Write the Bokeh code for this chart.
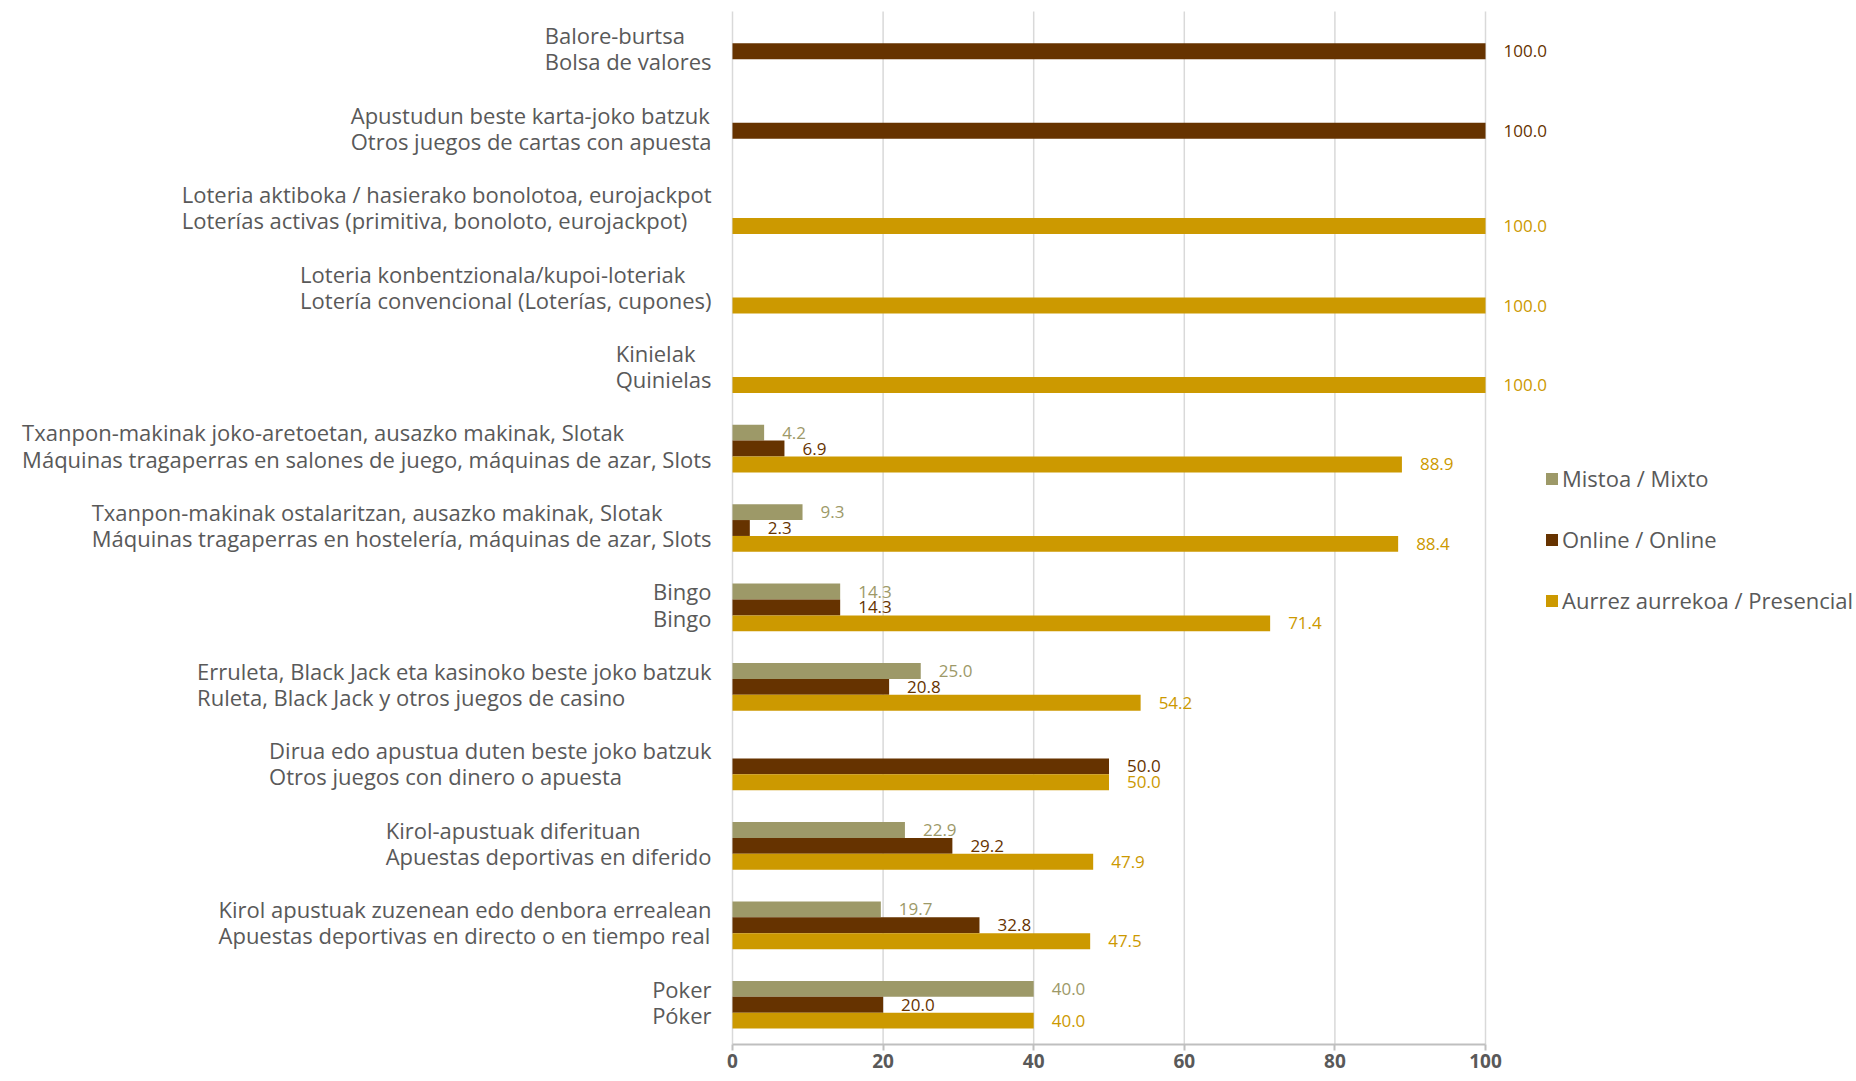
import math
from bokeh.plotting import figure
from bokeh.models import (ColumnDataSource, Range1d, FixedTicker, LinearAxis,
                          Legend, LegendItem)
from bokeh.core.properties import value
from bokeh.embed import file_html
from bokeh.resources import INLINE

# ---------------- data ----------------
categories_eu = [
    "Balore-burtsa",
    "Apustudun beste karta-joko batzuk",
    "Loteria aktiboka / hasierako bonolotoa, eurojackpot",
    "Loteria konbentzionala/kupoi-loteriak",
    "Kinielak",
    "Txanpon-makinak joko-aretoetan, ausazko makinak, Slotak",
    "Txanpon-makinak ostalaritzan, ausazko makinak, Slotak",
    "Bingo",
    "Erruleta, Black Jack eta kasinoko beste joko batzuk",
    "Dirua edo apustua duten beste joko batzuk",
    "Kirol-apustuak diferituan",
    "Kirol apustuak zuzenean edo denbora errealean",
    "Poker",
]
categories_es = [
    "Bolsa de valores",
    "Otros juegos de cartas con apuesta",
    "Loterías activas (primitiva, bonoloto, eurojackpot)",
    "Lotería convencional (Loterías, cupones)",
    "Quinielas",
    "Máquinas tragaperras en salones de juego, máquinas de azar, Slots",
    "Máquinas tragaperras en hostelería, máquinas de azar, Slots",
    "Bingo",
    "Ruleta, Black Jack y otros juegos de casino",
    "Otros juegos con dinero o apuesta",
    "Apuestas deportivas en diferido",
    "Apuestas deportivas en directo o en tiempo real",
    "Póker",
]
nan = float("nan")
mixto = [nan, nan, nan, nan, nan, 4.2, 9.3, 14.3, 25.0, nan, 22.9, 19.7, 40.0]
online = [100.0, 100.0, nan, nan, nan, 6.9, 2.3, 14.3, 20.8, 50.0, 29.2, 32.8, 20.0]
presencial = [nan, nan, 100.0, 100.0, 100.0, 88.9, 88.4, 71.4, 54.2, 50.0, 47.9, 47.5, 40.0]
series_names = ["Mistoa / Mixto", "Online / Online", "Aurrez aurrekoa / Presencial"]
x_ticks = [0, 20, 40, 60, 80, 100]

# ---------------- styles / layout ----------------
FONT = "Open Sans"
TEXT_GREY = "#595959"
GRID = "#D9D9D9"
colors = ["#9D9968", "#663300", "#CC9900"]
offsets = [0.2, 0.0, -0.2]
BAR_H = 0.2

W, H = 1856, 1080
PX_L, PX_R = 732, 1485      # screen x of value 0 and value 100
TOP, BOT = 11, 1044         # screen y of the category area
n = len(categories_eu)
sx = (PX_R - PX_L) / 100.0
sy = (BOT - TOP) / n

p = figure(width=W, height=H, output_backend="svg", toolbar_location=None,
           x_range=Range1d(-PX_L / sx, 100 + (W - PX_R) / sx),
           y_range=Range1d(-0.5 - (H - BOT) / sy, n - 0.5 + TOP / sy),
           x_axis_location=None, y_axis_location=None, tools="")
p.min_border_left = p.min_border_right = p.min_border_top = p.min_border_bottom = 0
p.outline_line_color = None
p.background_fill_color = "white"
p.border_fill_color = "white"
p.xgrid.visible = False
p.ygrid.visible = False

# vertical grid lines from the tick list
p.segment(x0=x_ticks, y0=[-0.5] * len(x_ticks), x1=x_ticks, y1=[n - 0.5] * len(x_ticks),
          line_color=GRID, line_width=1.5)

ax = LinearAxis(fixed_location=-0.5, bounds=(0, 100), ticker=FixedTicker(ticks=x_ticks))
ax.axis_line_color = "#BFBFBF"
ax.axis_line_width = 2
ax.major_tick_line_color = "#BFBFBF"
ax.major_tick_line_width = 2
ax.major_tick_out = 6
ax.major_tick_in = 0
ax.minor_tick_line_color = None
ax.major_label_standoff = 3
ax.major_label_text_font = FONT
ax.major_label_text_font_style = "bold"
ax.major_label_text_font_size = "19px"
ax.major_label_text_color = TEXT_GREY
p.add_layout(ax, "below")

renderers = []
for vals, col, off in zip([mixto, online, presencial], colors, offsets):
    ys, vs, lbls = [], [], []
    for i, v in enumerate(vals):
        if not math.isnan(v):
            ys.append(n - 1 - i + off)
            vs.append(v)
            lbls.append(f"{v:.1f}")
    src = ColumnDataSource(dict(y=ys, v=vs, lbl=lbls))
    r = p.hbar(y="y", left=0, right="v", height=BAR_H, source=src,
               fill_color=col, line_color=None)
    renderers.append(r)
    p.text(x="v", y="y", text="lbl", source=src, x_offset=18,
           text_align="left", text_baseline="middle",
           text_color=col, text_font=value(FONT), text_font_size="17px")

cat_src = ColumnDataSource(dict(
    y=[n - 1 - i for i in range(n)],
    x=[0] * n,
    t=[eu + "\n" + es for eu, es in zip(categories_eu, categories_es)],
))
p.text(x="x", y="y", text="t", source=cat_src, x_offset=-21, y_offset=-3,
       text_align="left", anchor="center_right", text_baseline="middle",
       text_line_height=0.87, text_color=TEXT_GREY, text_font=value(FONT),
       text_font_size="22px")

legend = Legend(items=[LegendItem(label=nm, renderers=[r])
                       for nm, r in zip(series_names, renderers)],
                location=(1544, 465), orientation="vertical",
                glyph_height=15, glyph_width=15, label_standoff=3,
                spacing=31, label_height=30, padding=0, margin=0,
                border_line_alpha=0, background_fill_alpha=0,
                label_text_font=FONT, label_text_font_size="22px",
                label_text_color=TEXT_GREY)
p.add_layout(legend)

open("out.html", "w").write(file_html(p, INLINE))
